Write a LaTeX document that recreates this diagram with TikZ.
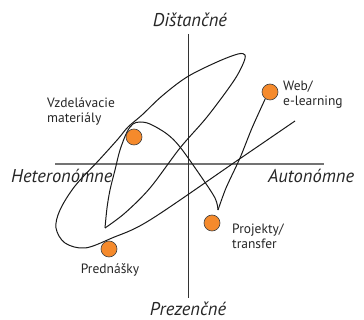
\documentclass[tikz,border=0pt]{standalone}
\usepackage{fontspec}
\setmainfont{PT Sans}
\definecolor{dotorange}{RGB}{245,138,44}
\pgfdeclarelayer{bg}
\pgfsetlayers{bg,main}
\begin{document}
\begin{tikzpicture}[x=1pt,y=-1pt,
  curve/.style={line width=1pt, black!90},
  haxis/.style={line width=1.2pt, black!55},
  vaxis/.style={line width=1pt, black!80},
  dot/.style={circle, fill=dotorange, draw=black!75, line width=0.6pt, minimum size=16pt, inner sep=0pt},
  axislbl/.style={font=\fontsize{18.5}{20}\selectfont\itshape, text=black!85, inner sep=0pt},
  lbl/.style={font=\fontsize{13.5}{15}\selectfont, align=left, text=black!85, inner sep=0pt}]
\useasboundingbox (0,0) rectangle (364,320);
% axes
\coordinate (hl) at (55,164);
\coordinate (hr) at (324,164);
\coordinate (vt) at (188,34);
\coordinate (vb) at (188,298);
% axis labels
\node[axislbl, anchor=base] (dist) at (190,27) {Dištančné};
\node[axislbl, anchor=base] (prez) at (188,316) {Prezenčné};
\node[axislbl, anchor=base west] (het) at (11,183) {Heteronómne};
\node[axislbl, anchor=base west] (aut) at (268,183) {Autonómne};
% dots
\node[dot] (web) at (270,92) {};
\node[dot] (vzd) at (134,137) {};
\node[dot] (proj) at (212,223) {};
\node[dot] (pred) at (109,249) {};
% labels
\node[lbl, anchor=west] (webl) at (283,95) {Web/\\e-learning};
\node[lbl, anchor=west] (vzdl) at (47,112) {Vzdelávacie\\materiály};
\node[lbl, anchor=west] (projl) at (232,236) {Projekty/\\transfer};
\node[lbl] (predl) at (110,270) {Prednášky};
% curve
\coordinate (free) at (295,121);
\coordinate (vtip) at (105,228);
\coordinate (ptip) at (218,210);
\begin{pgfonlayer}{bg}
\draw[haxis] (hl) -- (hr);
\draw[vaxis] (vt) -- (vb);
\draw[curve] plot[smooth, tension=0.55] coordinates {(free) (238,160) (150,220) (112,238) (85,248) (65,243) (56,228) (60,210) (75,186) (100,159) (118,139) (128,127) (142,115) (162,96) (187,77) (217,62) (238,54) (245,55) (243,64) (233,82) (207,117) (180,148) (150,188) (125,213) (vtip)};
\draw[curve] plot[smooth, tension=0.55] coordinates {(vtip) (107,208) (110,190) (115,170) (120,150) (127,132) (133,124) (140,122) (150,124) (167,134) (180,147) (200,175) (215,198) (ptip)};
\draw[curve] plot[smooth, tension=0.4] coordinates {(ptip) (226,188) (240,158) (252,128) (web.235)};
\end{pgfonlayer}
\end{tikzpicture}
\end{document}
